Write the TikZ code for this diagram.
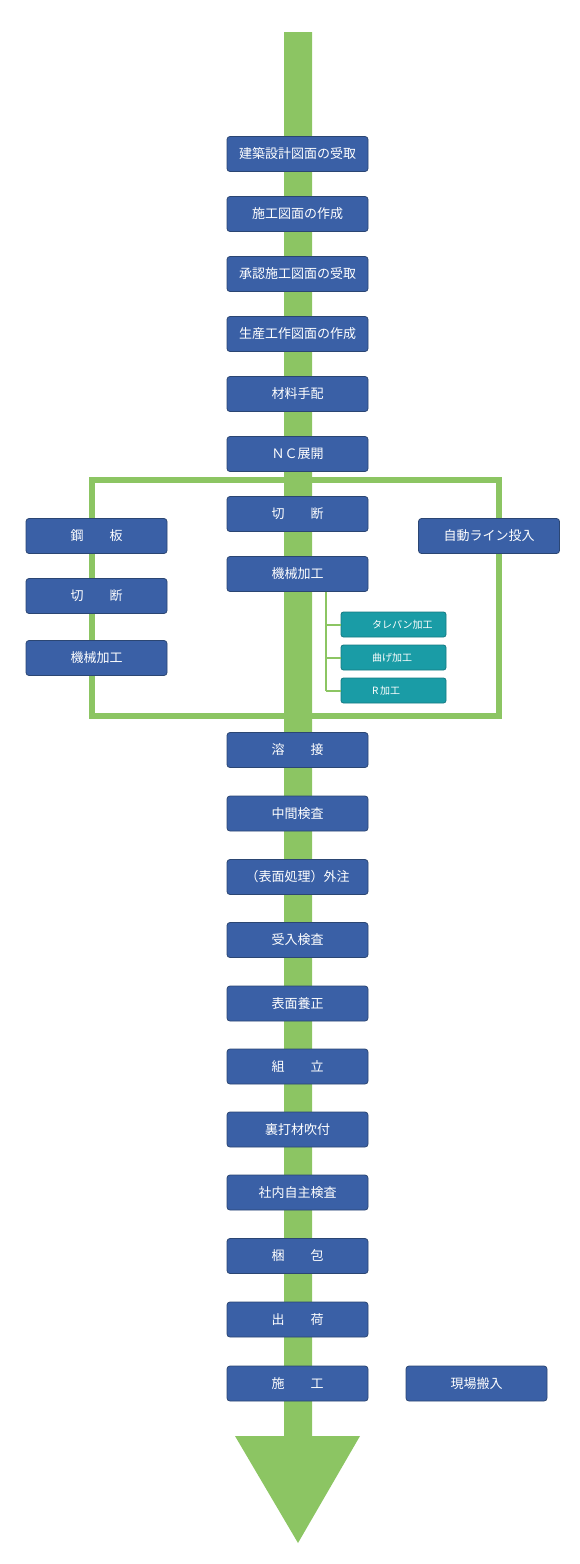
\documentclass[tikz,border=0pt]{standalone}
\usepackage{fontspec}
\newfontfamily\jp{Noto Sans CJK JP}
\definecolor{flowgreen}{HTML}{8CC563}
\definecolor{boxblue}{HTML}{3A60A6}
\definecolor{boxedge}{HTML}{2B4673}
\definecolor{tealbox}{HTML}{1A9CA6}
\definecolor{tealedge}{HTML}{157A82}
\tikzset{
  stepbox/.style={draw=boxedge, line width=0.8pt, fill=boxblue, rounded corners=3pt,
    minimum width=141pt, minimum height=35pt, inner sep=0pt, text=white,
    font=\jp\fontsize{13}{13}\selectfont},
  subbox/.style={draw=tealedge, line width=0.8pt, fill=tealbox, rounded corners=2.5pt,
    minimum width=105pt, minimum height=25pt, inner sep=0pt},
  sublabel/.style={text=white, font=\jp\fontsize{10}{10}\selectfont, anchor=west, inner sep=0pt},
  branch/.style={draw=flowgreen, line width=2pt}
}
\begin{document}
\begin{tikzpicture}[x=1pt,y=-1pt]
\useasboundingbox (0,0) rectangle (580,1564);
% main shaft and arrow head
\fill[flowgreen] (284,32) -- (312,32) -- (312,1436) -- (360,1436) -- (298,1543) -- (235,1436) -- (284,1436) -- cycle;
% frame
\draw[flowgreen, line width=6pt] (92,480) rectangle (499,716);
% main boxes
\node[stepbox] (b1) at (297.5,154) {建築設計図面の受取};
\node[stepbox] (b2) at (297.5,214) {施工図面の作成};
\node[stepbox] (b3) at (297.5,274) {承認施工図面の受取};
\node[stepbox] (b4) at (297.5,334) {生産工作図面の作成};
\node[stepbox] (b5) at (297.5,394) {材料手配};
\node[stepbox] (b6) at (297.5,454) {ＮＣ展開};
\node[stepbox] (b7) at (297.5,514) {切　　断};
\node[stepbox] (b8) at (297.5,574) {機械加工};
% left column
\node[stepbox] (l1) at (96.5,536) {鋼　　板};
\node[stepbox] (l2) at (96.5,596) {切　　断};
\node[stepbox] (l3) at (96.5,658) {機械加工};
% right
\node[stepbox] (r1) at (489,536) {自動ライン投入};
% sub-process bracket
\coordinate (bt) at (326,591.5);
\node[subbox] (s1) at (393.5,624.5) {};
\node[subbox] (s2) at (393.5,657.5) {};
\node[subbox] (s3) at (393.5,690.5) {};
\coordinate (bb) at (326,690.5);
\draw[branch] (bt) -- (bb);
\draw[branch] (326,624.5) -- (s1.west);
\draw[branch] (326,657.5) -- (s2.west);
\draw[branch] (bb) -- (s3.west);
\node[sublabel] (t1) at (372,624.5) {タレパン加工};
\node[sublabel] (t2) at (372,657.5) {曲げ加工};
\node[sublabel] (t3) at (372,690.5) {R\,加工};
% lower boxes
\node[stepbox] (c1) at (297.5,750) {溶　　接};
\node[stepbox] (c2) at (297.5,813.5) {中間検査};
\node[stepbox] (c3) at (297.5,877) {（表面処理）外注};
\node[stepbox] (c4) at (297.5,940) {受入検査};
\node[stepbox] (c5) at (297.5,1003.5) {表面養正};
\node[stepbox] (c6) at (297.5,1066.5) {組　　立};
\node[stepbox] (c7) at (297.5,1129.5) {裏打材吹付};
\node[stepbox] (c8) at (297.5,1192.5) {社内自主検査};
\node[stepbox] (c9) at (297.5,1256) {梱　　包};
\node[stepbox] (c10) at (297.5,1319.5) {出　　荷};
\node[stepbox] (c11) at (297.5,1383.5) {施　　工};
\node[stepbox] (g1) at (476.5,1383.5) {現場搬入};
\end{tikzpicture}
\end{document}
